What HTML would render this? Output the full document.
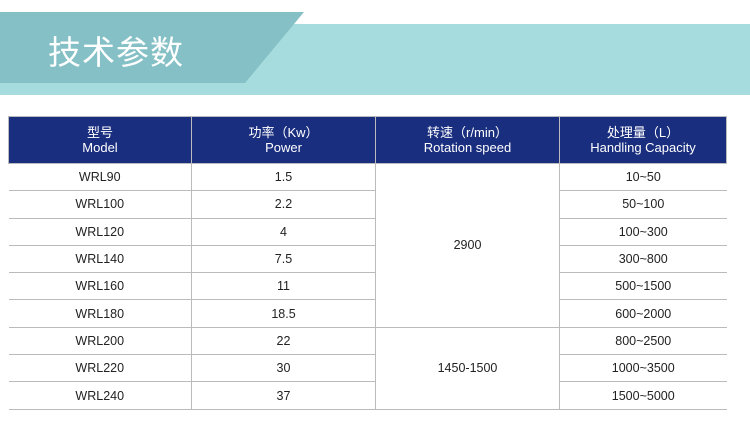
<!DOCTYPE html>
<html><head><meta charset="utf-8"><style>
body{margin:0;width:750px;height:431px;background:#fff;position:relative;overflow:hidden;font-family:"Liberation Sans","Noto Sans CJK SC",sans-serif}
.lb{position:absolute;left:0;top:24px;width:750px;height:71px;background:#a6dcdd}
.db{position:absolute;left:0;top:12px;width:304px;height:71px;background:#84c0c5;clip-path:polygon(0 0,100% 0,245px 100%,0 100%)}
.t{position:absolute;left:48px;top:26px;font-size:33px;color:#fff;font-family:"Noto Sans CJK SC",sans-serif;letter-spacing:1px}
table{position:absolute;left:8px;top:116px;border-collapse:collapse;width:719px;font-size:12.5px;color:#222}
td{border:1px solid #bbb;text-align:center;height:26.3px;padding:0}
tr td:first-child{border-left:none}
tr td:last-child{border-right:none}
th{background:#1a2e7f;color:#fff;font-weight:normal;height:46px;border:1px solid #bbb;font-size:13px;line-height:15px;padding:0}
</style></head><body>
<div class="lb"></div><div class="db"></div><div class="t">技术参数</div>
<table>
<tr><th style="width:182px">型号<br>Model</th><th style="width:183px">功率（Kw）<br>Power</th><th style="width:183px">转速（r/min）<br>Rotation speed</th><th>处理量（L）<br>Handling Capacity</th></tr>
<tr><td>WRL90</td><td>1.5</td><td rowspan="6">2900</td><td>10~50</td></tr>
<tr><td>WRL100</td><td>2.2</td><td>50~100</td></tr>
<tr><td>WRL120</td><td>4</td><td>100~300</td></tr>
<tr><td>WRL140</td><td>7.5</td><td>300~800</td></tr>
<tr><td>WRL160</td><td>11</td><td>500~1500</td></tr>
<tr><td>WRL180</td><td>18.5</td><td>600~2000</td></tr>
<tr><td>WRL200</td><td>22</td><td rowspan="3">1450-1500</td><td>800~2500</td></tr>
<tr><td>WRL220</td><td>30</td><td>1000~3500</td></tr>
<tr><td>WRL240</td><td>37</td><td>1500~5000</td></tr>
</table>
</body></html>
